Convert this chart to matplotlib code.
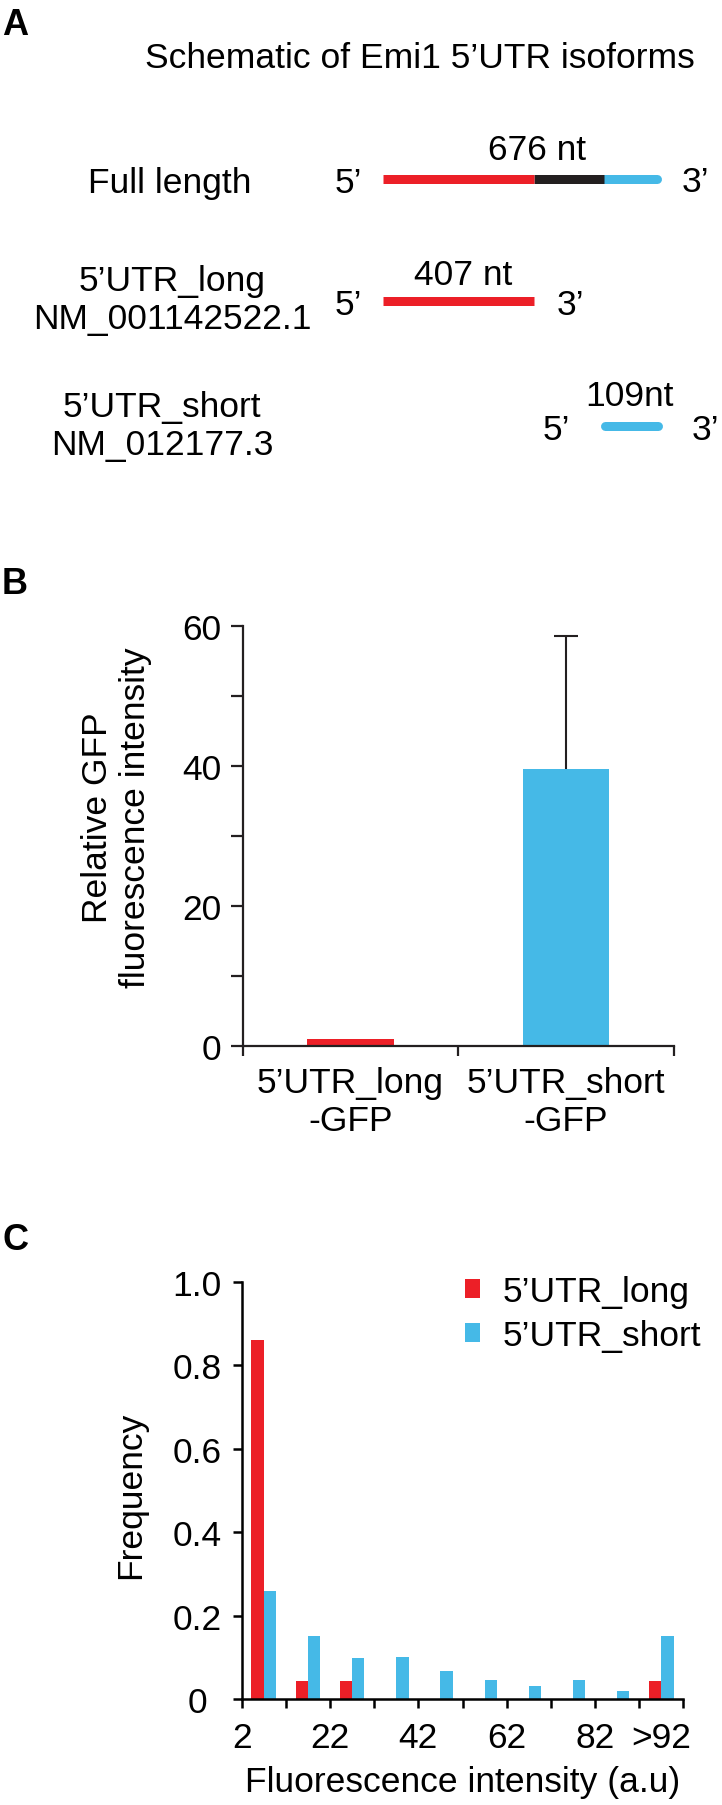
import matplotlib
matplotlib.use("Agg")
import matplotlib.pyplot as plt
import numpy as np
from matplotlib.ticker import MultipleLocator

plt.rcParams["font.family"] = ["Liberation Sans", "DejaVu Sans"]

RED = "#ec1f27"
BLUE = "#45b9e7"
DARK = "#231f20"
FS = 25.5

# panel A: isoform schematic
title_a = "Schematic of Emi1 5\u2019UTR isoforms"
isoform_names = ["Full length", "5\u2019UTR_long\nNM_001142522.1", "5\u2019UTR_short\nNM_012177.3"]
isoform_lengths = ["676 nt", "407 nt", "109nt"]

# panel B: relative GFP fluorescence
constructs = ["5\u2019UTR_long\n-GFP", "5\u2019UTR_short\n-GFP"]
gfp_mean = [1.0, 39.5]
gfp_err = [0.0, 19.0]

# panel C: histogram of fluorescence intensity
bin_labels = ["2", "", "22", "", "42", "", "62", "", "82", "", ""]
last_bin_label = ">92"
freq_long = [0.86, 0.042, 0.042, 0, 0, 0, 0, 0, 0, 0.042]
freq_short = [0.26, 0.15, 0.098, 0.101, 0.067, 0.045, 0.031, 0.045, 0.018, 0.15]
series_names = ["5\u2019UTR_long", "5\u2019UTR_short"]

W, H = 722, 1806
fig = plt.figure(figsize=(W / 100, H / 100), dpi=100)


def fig_text(x, y, s, **kw):
    fig.text(x / W, 1 - y / H, s, **kw)


# panel letters
for letter, ytop in [("A", 8), ("B", 567), ("C", 1223)]:
    fig_text(2, ytop, letter, fontsize=26, fontweight="bold", va="top", ha="left")

# ---- panel A ----
axa = fig.add_axes([0, 1 - 540 / H, 1, 540 / H])
axa.set_xlim(0, W)
axa.set_ylim(540, 0)
axa.axis("off")

lw = 9 / (100 / 72)
rows_y = [180, 301.5, 427]
# full length: red (long only) / black (shared) / blue (short)
axa.plot([604, 657], [rows_y[0]] * 2, color=BLUE, lw=lw, solid_capstyle="round")
axa.plot([534, 604], [rows_y[0]] * 2, color=DARK, lw=lw, solid_capstyle="butt")
axa.plot([382.7, 534], [rows_y[0]] * 2, color=RED, lw=lw, solid_capstyle="butt")
axa.plot([382.7, 534], [rows_y[1]] * 2, color=RED, lw=lw, solid_capstyle="butt")
axa.plot([604.5, 657.5], [rows_y[2]] * 2, color=BLUE, lw=lw, solid_capstyle="round")

axa.text(420, 68, title_a, fontsize=FS, ha="center", va="baseline")

# baseline of the last line of each name
name_pos = [(170, 193), (172, 329), (162, 455)]
for (x, y), name in zip(name_pos, isoform_names):
    axa.text(x, y, name, fontsize=FS, ha="center", va="baseline", linespacing=1.2)

len_pos = [(537, 160), (463, 285), (630, 406)]
for (x, y), s in zip(len_pos, isoform_lengths):
    axa.text(x, y, s, fontsize=FS, ha="center", va="baseline")

ends = [((335, 193), (682, 192)), ((335, 315), (557, 315)), ((543, 440), (692, 440))]
for (p5, p3) in ends:
    axa.text(p5[0], p5[1], "5\u2019", fontsize=FS, ha="left", va="baseline")
    axa.text(p3[0], p3[1], "3\u2019", fontsize=FS, ha="left", va="baseline")

# ---- panel B ----
axb = fig.add_axes([242.7 / W, 1 - 1046.7 / H, 431 / W, 420 / H])
xb = np.arange(len(constructs)) + 0.5
axb.bar(xb, gfp_mean, width=0.4, color=[RED, BLUE], zorder=2)
for x, m, e in zip(xb, gfp_mean, gfp_err):
    if e > 0:
        eb = axb.errorbar(x, m, yerr=[[0], [e]], fmt="none", ecolor=DARK,
                          elinewidth=1.5, capsize=8.3, capthick=1.5, zorder=1)
        # upward-only error bar: drop the cap sitting on the bar top
        for cap in eb.lines[1]:
            if np.allclose(cap.get_ydata(), m):
                cap.set_visible(False)
axb.set_xlim(0, 2)
axb.set_ylim(0, 60)
axb.set_yticks([0, 20, 40, 60])
axb.yaxis.set_minor_locator(MultipleLocator(10))
axb.set_xticks([0, 1, 2], labels=["", "", ""])
axb.set_xticks(xb, labels=constructs, minor=True)
for side in ["top", "right"]:
    axb.spines[side].set_visible(False)
for side in ["left", "bottom"]:
    axb.spines[side].set_color(DARK)
    axb.spines[side].set_linewidth(1.6)
axb.tick_params(axis="y", which="both", direction="out", length=8.6, width=1.6,
                color=DARK, labelsize=FS, pad=7)
axb.tick_params(axis="x", which="major", direction="out", length=7.2, width=1.6, color=DARK)
axb.tick_params(axis="x", which="minor", length=0, labelsize=FS, pad=14.5)
axb.set_ylabel("Relative GFP\nfluorescence intensity", fontsize=FS, linespacing=1.2)
axb.yaxis.set_label_coords(-0.21, 0.545)

# ---- panel C ----
axc = fig.add_axes([241.7 / W, 1 - 1700 / H, 441.6 / W, 417 / H])
idx = np.arange(len(freq_long))
bw = 0.28
axc.bar(idx + 0.5 - bw / 2, freq_long, bw, color=RED, label=series_names[0])
axc.bar(idx + 0.5 + bw / 2, freq_short, bw, color=BLUE, label=series_names[1])
axc.set_xlim(0, 10)
axc.set_ylim(0, 1)
axc.set_yticks([0, 0.2, 0.4, 0.6, 0.8, 1.0], labels=["0", "0.2", "0.4", "0.6", "0.8", "1.0"])
axc.set_xticks(np.arange(11), labels=bin_labels)
axc.set_xticks([9.5], labels=[last_bin_label], minor=True)
for side in ["top", "right"]:
    axc.spines[side].set_visible(False)
for side in ["left", "bottom"]:
    axc.spines[side].set_color("black")
    axc.spines[side].set_linewidth(1.8)
axc.tick_params(axis="y", direction="out", length=6.5, width=1.8, labelsize=FS, pad=25.7)
for lab in axc.get_yticklabels():
    lab.set_horizontalalignment("center")
axc.tick_params(axis="x", which="major", direction="out", length=6.5, width=1.8,
                labelsize=FS, pad=9.4)
axc.tick_params(axis="x", which="minor", length=0, labelsize=FS, pad=9.4 + 6.5)
axc.set_xlabel("Fluorescence intensity (a.u)", fontsize=FS, labelpad=8)
axc.set_ylabel("Frequency", fontsize=FS)
axc.yaxis.set_label_coords(-0.215, 0.49)
axc.legend(loc="upper left", bbox_to_anchor=(0.5057, 1.016), frameon=False,
           borderpad=0, borderaxespad=0, handlelength=0.43, handleheight=0.43,
           handletextpad=0.63, labelspacing=0.3, fontsize=FS)

fig.savefig("out.png", dpi=100)
